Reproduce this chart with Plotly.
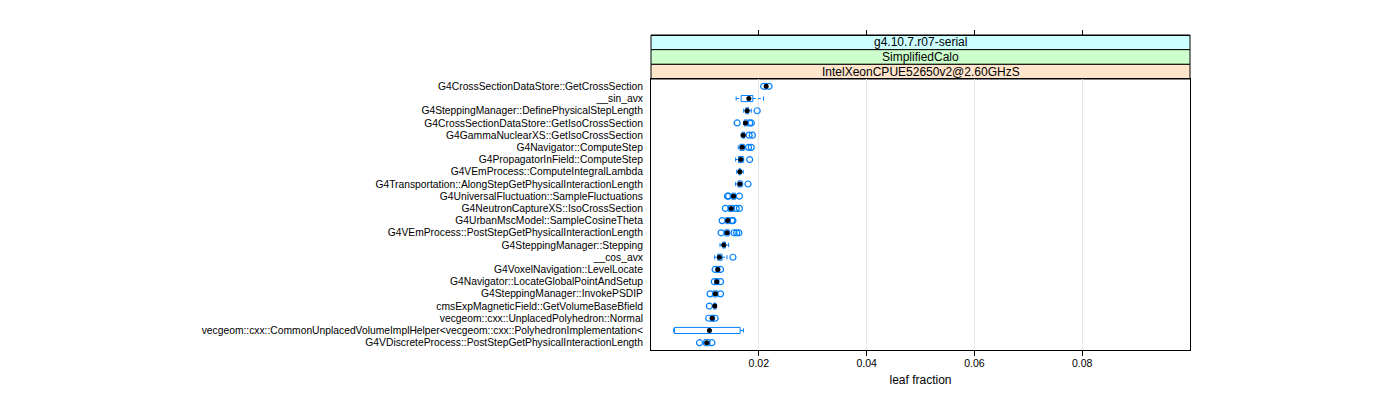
import plotly.graph_objects as go

# functions, top to bottom
functions = [
    "G4CrossSectionDataStore::GetCrossSection",
    "__sin_avx",
    "G4SteppingManager::DefinePhysicalStepLength",
    "G4CrossSectionDataStore::GetIsoCrossSection",
    "G4GammaNuclearXS::GetIsoCrossSection",
    "G4Navigator::ComputeStep",
    "G4PropagatorInField::ComputeStep",
    "G4VEmProcess::ComputeIntegralLambda",
    "G4Transportation::AlongStepGetPhysicalInteractionLength",
    "G4UniversalFluctuation::SampleFluctuations",
    "G4NeutronCaptureXS::IsoCrossSection",
    "G4UrbanMscModel::SampleCosineTheta",
    "G4VEmProcess::PostStepGetPhysicalInteractionLength",
    "G4SteppingManager::Stepping",
    "__cos_avx",
    "G4VoxelNavigation::LevelLocate",
    "G4Navigator::LocateGlobalPointAndSetup",
    "G4SteppingManager::InvokePSDIP",
    "cmsExpMagneticField::GetVolumeBaseBfield",
    "vecgeom::cxx::UnplacedPolyhedron::Normal",
    "vecgeom::cxx::CommonUnplacedVolumeImplHelper<vecgeom::cxx::PolyhedronImplementation<",
    "G4VDiscreteProcess::PostStepGetPhysicalInteractionLength",
]

medians = [0.02137, 0.01815, 0.01784, 0.01753, 0.01710, 0.01691, 0.01666, 0.01648,
           0.01648, 0.01530, 0.01487, 0.01424, 0.01412, 0.01350, 0.01270, 0.01239,
           0.01220, 0.01195, 0.01183, 0.01136, 0.01084, 0.01035]
q1 = [0.02120, 0.01673, 0.01760, 0.01730, 0.01690, 0.01650, 0.01625, 0.01630,
      0.01615, 0.01500, 0.01440, 0.01390, 0.01370, 0.01330, 0.01235, 0.01215,
      0.01190, 0.01150, 0.01165, 0.01110, 0.00435, 0.00985]
q3 = [0.02150, 0.01889, 0.01810, 0.01790, 0.01735, 0.01730, 0.01710, 0.01665,
      0.01690, 0.01570, 0.01540, 0.01460, 0.01450, 0.01380, 0.01320, 0.01265,
      0.01250, 0.01230, 0.01205, 0.01170, 0.01655, 0.01085]
whisker_lo = [0.02110, 0.01579, 0.01720, 0.01715, 0.01675, 0.01620, 0.01570, 0.01590,
              0.01570, 0.01490, 0.01430, 0.01380, 0.01360, 0.01280, 0.01180, 0.01205,
              0.01180, 0.01140, 0.01160, 0.01100, 0.00420, 0.00975]
whisker_hi = [0.02160, 0.02087, 0.01860, 0.01800, 0.01745, 0.01740, 0.01720, 0.01710,
              0.01700, 0.01580, 0.01550, 0.01470, 0.01460, 0.01440, 0.01410, 0.01275,
              0.01260, 0.01240, 0.01215, 0.01180, 0.01716, 0.01095]
outliers = [
    [0.02090, 0.02190],
    [],
    [0.01970],
    [0.01598, 0.01830, 0.01860],
    [0.01820, 0.01880],
    [0.01810, 0.01860],
    [0.01830],
    [],
    [0.01800],
    [0.01418, 0.01440, 0.01640],
    [0.01380, 0.01580, 0.01640],
    [0.01320, 0.01500, 0.01520],
    [0.01301, 0.01540, 0.01590, 0.01630],
    [],
    [0.01520],
    [0.01190, 0.01290],
    [0.01175, 0.01290],
    [0.01096, 0.01290],
    [0.01084],
    [0.01070, 0.01190],
    [],
    [0.00900, 0.01130],
]

strips = ["g4.10.7.r07-serial", "SimplifiedCalo", "IntelXeonCPUE52650v2@2.60GHzS"]
strip_colors = ["#ccffff", "#ccffcc", "#ffe5cc"]
x_ticks = [0.02, 0.04, 0.06, 0.08]

BLUE = "#0080ff"
FONT = "Liberation Sans, Arial, sans-serif"
BOX_H = 0.25
CAP_H = 0.17

pos = list(range(1, len(functions) + 1))

box_x, box_y, wh_x, wh_y, cap_x, cap_y = [], [], [], [], [], []
out_x, out_y = [], []
for p, a, b, lo, hi, outs in zip(pos, q1, q3, whisker_lo, whisker_hi, outliers):
    box_x += [a, b, b, a, a, None]
    box_y += [p - BOX_H, p - BOX_H, p + BOX_H, p + BOX_H, p - BOX_H, None]
    wh_x += [lo, a, None, b, hi, None]
    wh_y += [p, p, None, p, p, None]
    cap_x += [lo, lo, None, hi, hi, None]
    cap_y += [p - CAP_H, p + CAP_H, None, p - CAP_H, p + CAP_H, None]
    out_x += outs
    out_y += [p] * len(outs)

fig = go.Figure()
fig.add_trace(go.Scatter(x=wh_x, y=wh_y, mode="lines",
                         line=dict(color=BLUE, width=1, dash="3px,2px"), hoverinfo="skip"))
fig.add_trace(go.Scatter(x=cap_x, y=cap_y, mode="lines",
                         line=dict(color=BLUE, width=1), hoverinfo="skip"))
fig.add_trace(go.Scatter(x=box_x, y=box_y, mode="lines",
                         line=dict(color=BLUE, width=1), hoverinfo="skip"))
fig.add_trace(go.Scatter(x=out_x, y=out_y, mode="markers",
                         marker=dict(symbol="circle-open", size=6, color=BLUE,
                                     line=dict(width=1.2))))
fig.add_trace(go.Scatter(x=medians, y=pos, mode="markers",
                         marker=dict(symbol="circle", size=5, color="black")))
# invisible trace so the top axis is drawn
fig.add_trace(go.Scatter(x=medians, y=pos, xaxis="x2", mode="markers",
                         marker=dict(opacity=0), hoverinfo="skip"))

top, bottom = 27, 58
plot_h = 400 - top - bottom
panel_top = 271 / plot_h
strip_h = (1 - panel_top) / len(strips)

shapes = []
annotations = []
for k, (label, col) in enumerate(zip(strips, strip_colors)):
    y1 = 1 - k * strip_h
    y0 = y1 - strip_h
    shapes.append(dict(type="rect", xref="paper", yref="paper", x0=0, x1=1,
                       y0=y0, y1=y1, fillcolor=col, line=dict(color="black", width=1),
                       layer="below"))
    annotations.append(dict(text=label, xref="paper", yref="paper", x=0.5,
                            y=(y0 + y1) / 2, xanchor="center", yanchor="middle",
                            showarrow=False,
                            font=dict(size=12, color="black", family=FONT)))

x_range = [0.0, 0.1]

fig.update_layout(
    width=1400, height=400,
    margin=dict(l=643, r=218, t=top, b=bottom),
    paper_bgcolor="white", plot_bgcolor="white",
    showlegend=False,
    font=dict(family=FONT, color="black", size=10.5),
    shapes=shapes, annotations=annotations,
    xaxis=dict(range=x_range, tickvals=x_ticks, ticktext=[f"{v:.2f}" for v in x_ticks],
               ticks="outside", ticklen=5, tickcolor="black",
               showline=True, linecolor="black", mirror=True,
               showgrid=True, gridcolor="#e6e6e6", zeroline=False,
               tickfont=dict(size=10.5), ticklabelstandoff=-2,
               title=dict(text="leaf fraction", font=dict(size=12), standoff=8)),
    xaxis2=dict(range=x_range, matches="x", overlaying="x", side="top",
                anchor="free", position=1.0, tickvals=x_ticks, showticklabels=False,
                ticks="outside", ticklen=5, tickcolor="black",
                showline=True, linecolor="black", showgrid=False, zeroline=False),
    yaxis=dict(domain=[0, panel_top], range=[len(functions) + 0.6, 0.4],
               tickvals=pos, ticktext=functions, ticks="", ticklabelstandoff=5,
               showline=True, linecolor="black", mirror=True,
               showgrid=False, zeroline=False, tickfont=dict(size=10.3)),
)

fig.write_html("out.html")
